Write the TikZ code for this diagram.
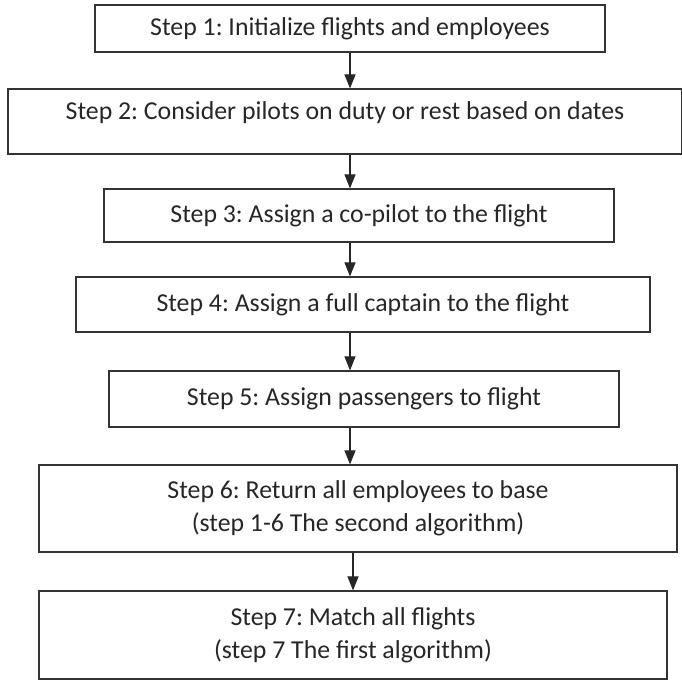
\documentclass[tikz,border=0pt]{standalone}
\usepackage{fontspec}
\setmainfont{Carlito}
\usepackage{xcolor}
\usepackage{tikz}
\usetikzlibrary{arrows.meta}
\frenchspacing

\begin{document}
\begin{tikzpicture}[
  x=1pt, y=-1pt,
  >={Triangle[width=11pt,length=14pt]},
  stepbox/.style={rectangle, draw=black!80, line width=1.2pt, align=center, inner sep=0pt, text=black!85, font=\fontsize{25.8}{33}\selectfont},
  flow/.style={->, draw=black!85, line width=1.1pt}
]
\useasboundingbox (0,0) rectangle (682,681);

% Steps of the algorithm
\node[stepbox, minimum width=510pt, minimum height=47pt] (init) at (350,28.5) {Step 1: Initialize flights and employees};
\node[stepbox, minimum width=674pt, minimum height=65pt, text depth=21pt] (consider) at (345,121.5) {Step 2: Consider pilots on duty or rest based on dates};
\node[stepbox, minimum width=510pt, minimum height=53pt] (copilot) at (359,215.5) {Step 3: Assign a co-pilot to the flight};
\node[stepbox, minimum width=574pt, minimum height=55pt] (captain) at (363,304.5) {Step 4: Assign a full captain to the flight};
\node[stepbox, minimum width=510pt, minimum height=56pt] (passengers) at (364,399) {Step 5: Assign passengers to flight};
\node[stepbox, minimum width=638pt, minimum height=87pt] (return) at (358,508.5) {Step 6: Return all employees to base\\(step 1-6 The second algorithm)};
\node[stepbox, minimum width=628pt, minimum height=88pt] (match) at (353,635) {Step 7: Match all flights\\(step 7 The first algorithm)};

% Arrows run down one column
\coordinate (axis) at (350,0);
\draw[flow] (init.south -| axis) -- (consider.north -| axis);
\draw[flow] (consider.south -| axis) -- (copilot.north -| axis);
\draw[flow] (copilot.south -| axis) -- (captain.north -| axis);
\draw[flow] (captain.south -| axis) -- (passengers.north -| axis);
\draw[flow] (passengers.south -| axis) -- (return.north -| axis);
\coordinate (axislow) at (353,0);
\draw[flow] (return.south -| axislow) -- (match.north -| axislow);

\end{tikzpicture}
\end{document}
